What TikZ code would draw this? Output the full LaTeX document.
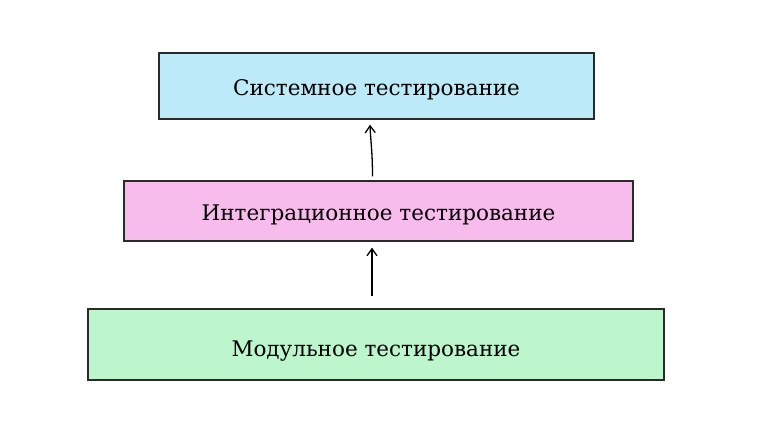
\documentclass[tikz,border=0pt]{standalone}
\usepackage{fontspec}
\setmainfont{DejaVu Serif}
\usetikzlibrary{arrows.meta}
\definecolor{cblue}{HTML}{BDEAF8}
\definecolor{cpink}{HTML}{F7BCEC}
\definecolor{cgreen}{HTML}{BDF6CD}
\definecolor{cedge}{HTML}{2A2A2A}
\tikzset{
  layer/.style={draw=cedge, line width=1.3pt, inner sep=0pt, font=\fontsize{21.5}{24}\selectfont},
  up/.style={-{Straight Barb[length=7pt,width=10pt]}, line width=1.3pt, black},
}
\begin{document}
\begin{tikzpicture}[x=1pt,y=-1pt]
\useasboundingbox (0,0) rectangle (761,424);
\node[layer, fill=cblue, minimum width=435pt, minimum height=66pt] (sys) at (376.5,86) {\raisebox{-9.5pt}[0pt][0pt]{Системное тестирование}};
\node[layer, fill=cpink, minimum width=509pt, minimum height=60pt] (int) at (378.5,211) {\raisebox{-9.5pt}[0pt][0pt]{Интеграционное тестирование}};
\node[layer, fill=cgreen, minimum width=576pt, minimum height=71pt] (mod) at (376,344.5) {\raisebox{-11.5pt}[0pt][0pt]{Модульное тестирование}};
\draw[up] ([xshift=-6pt,yshift=4pt]int.north) .. controls +(0,-25) and +(0.5,15) .. ([xshift=-6.5pt,yshift=-5pt]sys.south);
\draw[up] ([xshift=-4pt,yshift=12pt]mod.north) .. controls +(0,-25) and +(0,15) .. ([xshift=-6.5pt,yshift=-6pt]int.south);
\end{tikzpicture}
\end{document}
